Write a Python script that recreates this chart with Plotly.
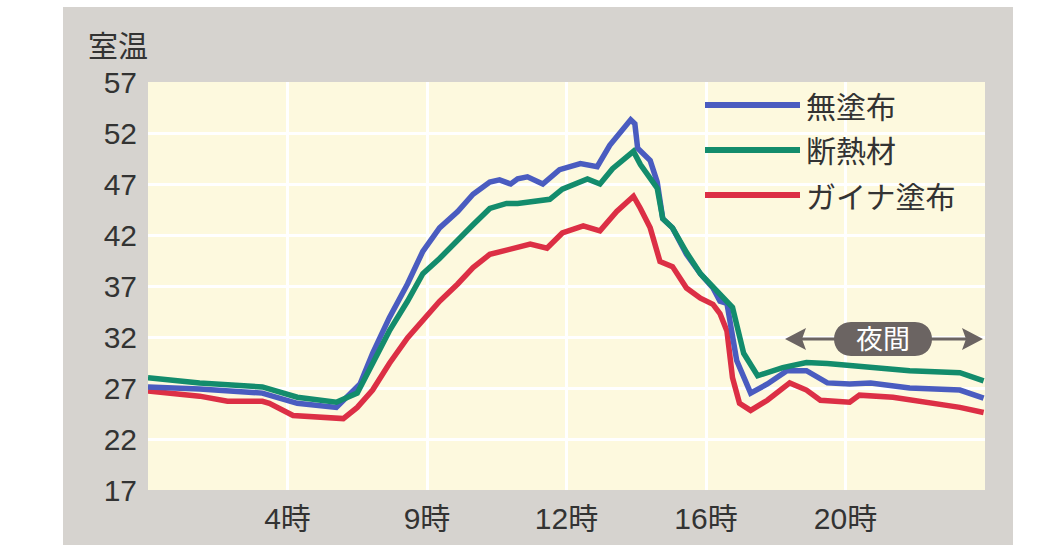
import plotly.graph_objects as go

# ---- data (x = position along the time axis, in grid-column units) ----
tick_pos = [1, 2, 3, 4, 5]
tick_text = ["4時", "9時", "12時", "16時", "20時"]
y_ticks = [17, 22, 27, 32, 37, 42, 47, 52, 57]

names = ["無塗布", "断熱材", "ガイナ塗布"]

blue_x = [0.00, 0.37, 0.82, 1.07, 1.35, 1.52, 1.61, 1.73, 1.86, 1.97, 2.09, 2.22, 2.33, 2.45, 2.52, 2.60,
          2.65, 2.72, 2.83, 2.95, 3.10, 3.22, 3.31, 3.43, 3.46, 3.49, 3.51, 3.60, 3.65, 3.69, 3.76, 3.86, 3.96,
          4.05, 4.10, 4.15, 4.22, 4.32, 4.44, 4.58, 4.72, 4.87, 5.03, 5.18, 5.46, 5.82, 5.99]
blue_y = [27.1, 26.9, 26.5, 25.5, 25.1, 27.4, 30.4, 33.9, 37.2, 40.4, 42.7, 44.3, 46.0, 47.2, 47.4, 47.0,
          47.5, 47.7, 47.0, 48.4, 49.0, 48.7, 50.8, 52.9, 53.3, 52.9, 50.5, 49.3, 47.2, 43.6, 42.7, 40.1, 38.2,
          36.8, 35.5, 35.3, 29.7, 26.5, 27.4, 28.7, 28.7, 27.5, 27.4, 27.5, 27.0, 26.8, 26.0]

green_x = [0.00, 0.37, 0.82, 1.07, 1.35, 1.50, 1.61, 1.73, 1.86, 1.97, 2.09, 2.22, 2.33, 2.45, 2.57, 2.65,
           2.88, 2.97, 3.15, 3.24, 3.33, 3.48, 3.53, 3.65, 3.69, 3.76, 3.86, 3.96, 4.10, 4.19, 4.27, 4.37,
           4.55, 4.72, 4.87, 5.23, 5.46, 5.82, 5.99]
green_y = [28.0, 27.5, 27.1, 26.1, 25.6, 26.5, 29.4, 32.6, 35.5, 38.2, 39.7, 41.4, 43.0, 44.6, 45.1, 45.1,
           45.5, 46.5, 47.5, 47.0, 48.5, 50.2, 48.9, 46.6, 43.6, 42.7, 40.3, 38.2, 36.2, 34.9, 30.4, 28.2,
           29.0, 29.5, 29.4, 29.0, 28.7, 28.5, 27.7]

red_x = [0.00, 0.37, 0.57, 0.82, 0.87, 1.04, 1.40, 1.50, 1.61, 1.73, 1.86, 1.97, 2.09, 2.22, 2.33, 2.45,
         2.57, 2.74, 2.86, 2.97, 3.12, 3.24, 3.36, 3.48, 3.53, 3.60, 3.67, 3.76, 3.86, 3.96, 4.05, 4.10,
         4.15, 4.19, 4.24, 4.32, 4.44, 4.60, 4.72, 4.82, 5.03, 5.10, 5.34, 5.58, 5.82, 5.99]
red_y = [26.7, 26.2, 25.7, 25.7, 25.5, 24.3, 24.0, 25.1, 26.8, 29.4, 31.9, 33.6, 35.5, 37.2, 38.8, 40.1,
         40.5, 41.1, 40.7, 42.2, 42.9, 42.4, 44.3, 45.8, 44.6, 42.7, 39.4, 38.9, 36.8, 35.8, 35.2, 34.3,
         32.6, 28.0, 25.5, 24.8, 25.8, 27.5, 26.8, 25.8, 25.6, 26.3, 26.1, 25.6, 25.1, 24.6]

# ---- styling ----
BLUE, GREEN, RED = "#4a5cc0", "#138c6c", "#dc2f45"
GREY_BG, CREAM = "#d6d3cf", "#fdf9de"
TXT = "#333333"
FONT = "Liberation Sans, Noto Sans CJK JP, sans-serif"

W, H = 1040, 545
L, R, T, B = 148, 55, 82, 55
PW, PH = W - L - R, H - T - B


def px(x):
    return (x - L) / PW


def py(y):
    return (H - B - y) / PH


fig = go.Figure()
for xs, ys, c, n in [(red_x, red_y, RED, names[2]), (blue_x, blue_y, BLUE, names[0]),
                     (green_x, green_y, GREEN, names[1])]:
    fig.add_trace(go.Scatter(x=xs, y=ys, mode="lines", name=n,
                             line=dict(color=c, width=5.5), showlegend=False))

shapes = []
# white margins outside the grey panel
for x0, x1, y0, y1 in [(0, 63, 0, H), (0, W, 0, 7), (1013, W, 0, H)]:
    shapes.append(dict(type="rect", xref="paper", yref="paper", layer="below",
                       x0=px(x0), x1=px(x1), y0=py(y1), y1=py(y0),
                       fillcolor="white", line=dict(width=0)))

# legend lines
legend_rows = [(105, BLUE, names[0]), (150, GREEN, names[1]), (195, RED, names[2])]
annotations = []
for yy, c, n in legend_rows:
    shapes.append(dict(type="line", xref="paper", yref="paper", layer="above",
                       x0=px(705), x1=px(800), y0=py(yy), y1=py(yy),
                       line=dict(color=c, width=6)))
    annotations.append(dict(x=px(804), y=py(yy + 2), xref="paper", yref="paper", text=n,
                            showarrow=False, xanchor="left", yanchor="middle",
                            font=dict(size=30, color=TXT, family=FONT)))

# 夜間 marker: arrow line, arrowheads and pill
AC = "#6b6462"
yc = 339
shapes.append(dict(type="line", xref="paper", yref="paper", layer="above",
                   x0=px(795), x1=px(972), y0=py(yc), y1=py(yc), line=dict(color=AC, width=3)))
for tip, base in [(785, 806), (983, 962)]:
    notch = base - 4 if tip < base else base + 4
    shapes.append(dict(type="path", xref="paper", yref="paper", layer="above",
                       path=f"M{px(tip)},{py(yc)} L{px(base)},{py(yc-11)} L{px(notch)},{py(yc)} L{px(base)},{py(yc+11)} Z",
                       fillcolor=AC, line=dict(width=0)))
r = 17
xa, xb = 851, 915
k = 1.3333
pill = (f"M{px(xa)},{py(yc-r)} L{px(xb)},{py(yc-r)} "
        f"C{px(xb + k*r)},{py(yc-r)} {px(xb + k*r)},{py(yc+r)} {px(xb)},{py(yc+r)} "
        f"L{px(xa)},{py(yc+r)} "
        f"C{px(xa - k*r)},{py(yc+r)} {px(xa - k*r)},{py(yc-r)} {px(xa)},{py(yc-r)} Z")
shapes.append(dict(type="path", xref="paper", yref="paper", layer="above", path=pill,
                   fillcolor=AC, line=dict(width=0)))
annotations.append(dict(x=px(883), y=py(yc + 1), xref="paper", yref="paper", text="夜間",
                        showarrow=False, xanchor="center", yanchor="middle",
                        font=dict(size=27, color="white", family=FONT)))

# axis title 室温
annotations.append(dict(x=px(86), y=py(46), xref="paper", yref="paper", text="室温",
                        showarrow=False, xanchor="left", yanchor="middle",
                        font=dict(size=30, color=TXT, family=FONT)))

fig.update_layout(
    width=W, height=H,
    margin=dict(l=L, r=R, t=T, b=B, autoexpand=False),
    paper_bgcolor=GREY_BG, plot_bgcolor=CREAM,
    shapes=shapes, annotations=annotations,
    font=dict(family=FONT, color=TXT, size=30),
    xaxis=dict(range=[0, 6], tickmode="array", tickvals=tick_pos, ticktext=tick_text,
               showgrid=True, gridcolor="white", gridwidth=3, zeroline=False, showline=False,
               ticks="", ticklabelstandoff=8, tickfont=dict(size=30, color=TXT, family=FONT)),
    yaxis=dict(range=[17, 57], tickmode="array", tickvals=y_ticks,
               showgrid=True, gridcolor="white", gridwidth=3, zeroline=False, showline=False,
               ticks="", ticklabelstandoff=10, tickfont=dict(size=30, color=TXT, family=FONT)),
    showlegend=False,
)

fig.write_html("out.html", config={"displayModeBar": False},
               post_script="document.body.style.margin='0';document.body.style.overflow='hidden';")
